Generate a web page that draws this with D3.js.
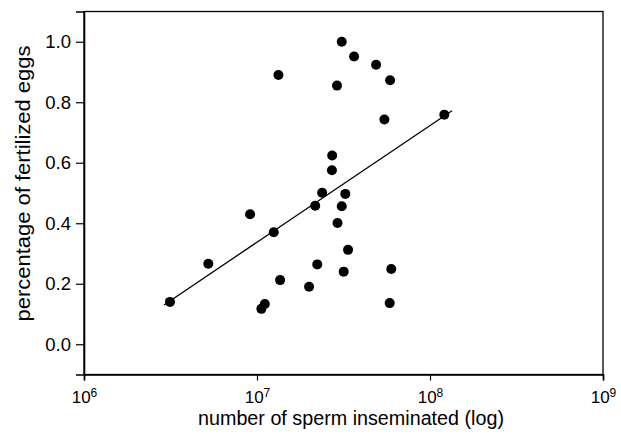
<!DOCTYPE html>
<html>
<head>
<meta charset="utf-8">
<script src="https://cdn.jsdelivr.net/npm/d3@7"></script>
<style>
  body { margin: 0; background: #fff; }
  text { font-family: "Liberation Sans", Arial, sans-serif; fill: #000; }
</style>
</head>
<body>
<svg id="chart" width="621" height="440"></svg>
<script>
// sperm count (x, log scale) vs fraction of eggs fertilized (y)
const spermCount = [3.14e6, 5.23e6, 9.12e6, 1.25e7, 1.33e7, 1.36e7, 1.11e7, 1.06e7,
    2.00e7, 2.17e7, 2.23e7, 2.38e7, 2.71e7, 2.72e7, 2.90e7, 2.92e7, 3.09e7, 3.09e7,
    3.17e7, 3.24e7, 3.36e7, 3.64e7, 4.88e7, 5.45e7, 5.88e7, 5.97e7, 5.85e7, 1.21e8];
const fertilized = [0.140, 0.266, 0.430, 0.370, 0.890, 0.212, 0.133, 0.117,
    0.190, 0.458, 0.264, 0.501, 0.575, 0.624, 0.855, 0.401, 1.000, 0.456,
    0.240, 0.497, 0.312, 0.951, 0.924, 0.743, 0.873, 0.249, 0.136, 0.759];

// fitted line endpoints
const fitX = [2.9e6, 1.34e8];
const fitY = [0.13, 0.772];

const xTicks = [6, 7, 8, 9];           // exponents
const yTicks = [0, 0.2, 0.4, 0.6, 0.8, 1.0];

const svg = d3.select("#chart");
const plotLeft = 84, plotRight = 603, plotTop = 11.5, plotBottom = 374.5;

const x = d3.scaleLog().domain([1e6, 1e9]).range([plotLeft, plotRight]);
const y = d3.scaleLinear().domain([-0.1, 1.1]).range([plotBottom, plotTop]);

// frame
svg.append("rect")
    .attr("x", plotLeft).attr("y", plotTop)
    .attr("width", plotRight - plotLeft).attr("height", plotBottom - plotTop)
    .attr("fill", "none").attr("stroke", "#000").attr("stroke-width", 1.3);

// y axis
let yAxis = svg.append("g")
    .attr("transform", "translate(" + plotLeft + ",0)")
    .call(d3.axisLeft(y).tickValues(yTicks).tickFormat(d3.format(".1f")).tickSize(8).tickPadding(5));
yAxis.select(".domain").attr("stroke-width", 1.6);
yAxis.selectAll("line").attr("stroke-width", 1.2);
yAxis.selectAll("text").style("font-size", "18.5px");

// x axis, labels as 10 with a superscript exponent
let xAxis = svg.append("g")
    .attr("transform", "translate(0," + plotBottom + ")")
    .call(d3.axisBottom(x).tickValues(xTicks.map(e => Math.pow(10, e))).tickFormat("").tickSize(6));
xAxis.select(".domain").attr("stroke-width", 1.6);
xAxis.selectAll("line").attr("stroke-width", 1.2);

xAxis.selectAll(".tick text").each(function (d) {
    let t = d3.select(this)
        .attr("y", 28)
        .attr("dy", null)
        .style("font-size", "17px");
    t.append("tspan").text("10");
    t.append("tspan").attr("dy", -5.6).style("font-size", "12px").text(Math.round(Math.log10(d)));
});

// regression line
svg.append("line")
    .attr("x1", x(fitX[0])).attr("y1", y(fitY[0]))
    .attr("x2", x(fitX[1])).attr("y2", y(fitY[1]))
    .attr("stroke", "#000").attr("stroke-width", 1.3);

// points
svg.append("g").selectAll("circle")
    .data(d3.range(spermCount.length))
    .join("circle")
    .attr("cx", i => x(spermCount[i]))
    .attr("cy", i => y(fertilized[i]))
    .attr("r", 5)
    .attr("fill", "#000");

// axis titles
svg.append("text")
    .attr("x", 351).attr("y", 424.5)
    .attr("text-anchor", "middle")
    .attr("textLength", 306)
    .attr("lengthAdjust", "spacingAndGlyphs")
    .style("font-size", "19.5px")
    .text("number of sperm inseminated (log)");

svg.append("text")
    .attr("transform", "translate(29.5,183.5) rotate(-90)")
    .attr("text-anchor", "middle")
    .attr("textLength", 276)
    .attr("lengthAdjust", "spacingAndGlyphs")
    .style("font-size", "20px")
    .text("percentage of fertilized eggs");
</script>
</body>
</html>
